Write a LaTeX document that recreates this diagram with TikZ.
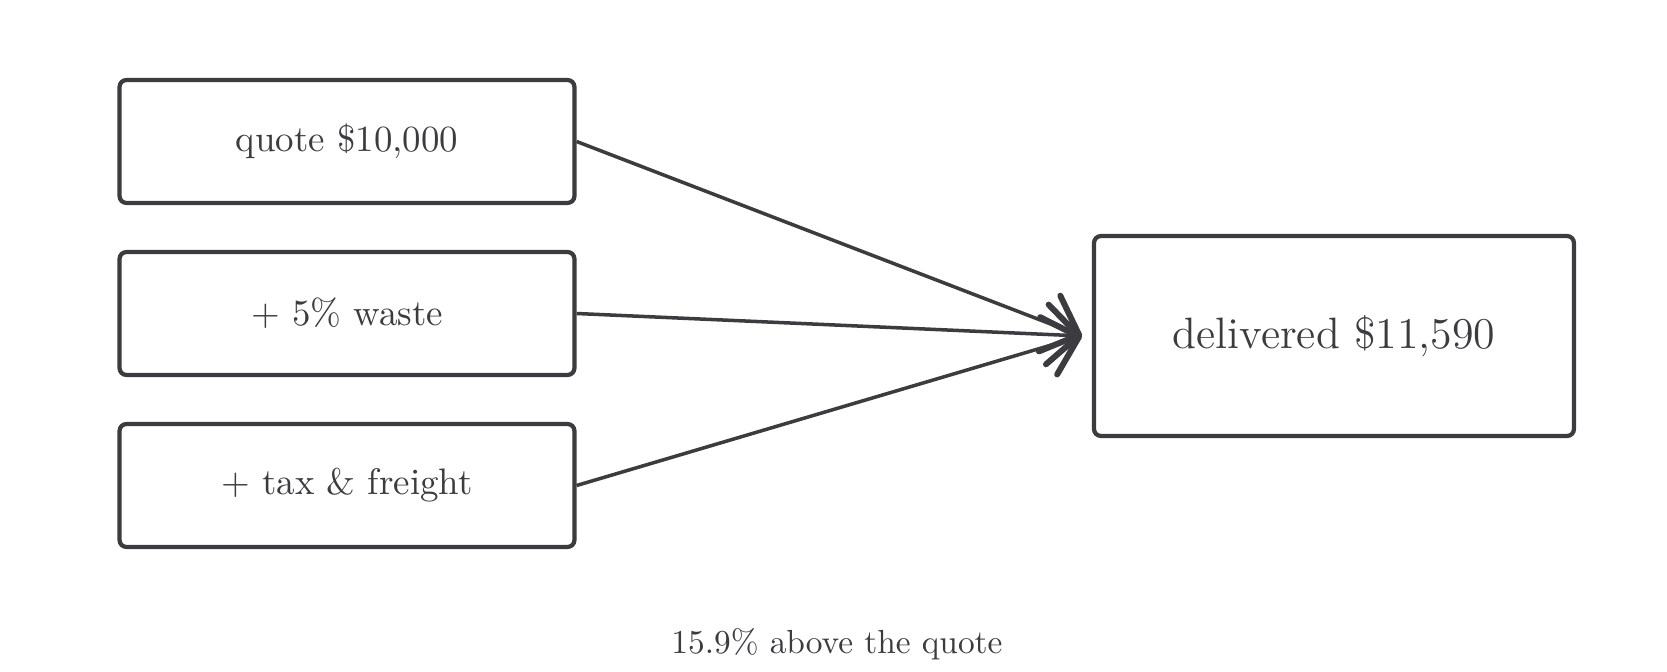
\documentclass[tikz,border=0pt]{standalone}
\usepackage{xcolor}
\usepackage{tikz}
\usetikzlibrary{arrows.meta,positioning}
\definecolor{ink}{HTML}{3C3C40}

\begin{document}
\begin{tikzpicture}[shorten >=0pt,
  cost/.style={draw=ink,line width=1.2pt,rounded corners=2pt,minimum width=4.55cm,minimum height=1.23cm,inner sep=0pt,text=ink,font=\fontsize{10.5}{12}\selectfont},
  total/.style={cost,minimum width=4.8cm,minimum height=2.0cm,font=\fontsize{12.5}{14}\selectfont}]
\useasboundingbox (0,0) rectangle (16.67,6.72);
  \node[cost]  (Q) at (3.47,5.305)  {quote \$10,000};
  \node[cost]  (W) at (3.47,3.585)  {+ 5\% waste};
  \node[cost]  (T) at (3.47,1.865)  {+ tax \& freight};
  \node[total] (D) at (13.34,3.36) {delivered \$11,590};
  \node[text=ink,font=\fontsize{9.5}{11}\selectfont] (N) at (8.37,0.28) {15.9\% above the quote};
  \coordinate[left=0.1cm of D.west] (tip);

  \path[->,>={Straight Barb[length=9pt,width=17pt,line width=1.7pt,round]},ink,line width=1pt]
        (Q.east) edge              node {} (tip)
        (W.east) edge              node {} (tip)
        (T.east) edge              node {} (tip);
\end{tikzpicture}
\end{document}
